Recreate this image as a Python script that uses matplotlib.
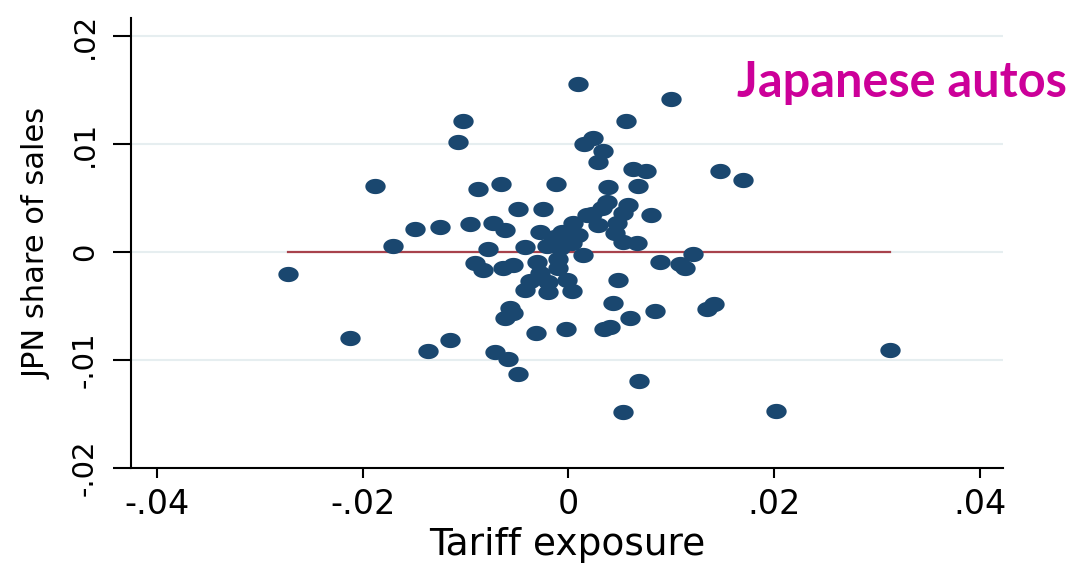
import matplotlib.pyplot as plt
import numpy as np

# tariff exposure (x) vs change in JPN share of sales (y), one point per market
tariff = [0.0009, 0.0100, -0.0103, 0.0056, 0.0024, -0.0107, 0.0015, 0.0034, 0.0029, 0.0063,
          0.0075, 0.0147, 0.0170, -0.0066, -0.0012, -0.0188, 0.0038, 0.0068, -0.0088, 0.0037,
          0.0058, -0.0049, -0.0025, 0.0080, 0.0023, 0.0053, 0.0004, 0.0018, 0.0047, 0.0033,
          -0.0125, -0.0149, -0.0096, -0.0073, -0.0062, 0.0045, -0.0028, -0.0013, 0.0053, 0.0067,
          -0.0171, -0.0078, -0.0042, -0.0021, -0.0008, 0.0003, 0.0121, 0.0014, -0.0010, -0.0031,
          0.0089, 0.0108, 0.0113, -0.0273, -0.0091, -0.0083, -0.0064, -0.0054, -0.0010, -0.0028,
          -0.0037, -0.0020, -0.0001, 0.0048, -0.0042, -0.0020, 0.0003, 0.0043, -0.0057, -0.0062,
          -0.0054, 0.0084, 0.0135, 0.0141, 0.0060, 0.0035, 0.0040, -0.0002, -0.0032, -0.0212,
          -0.0115, -0.0137, -0.0071, -0.0059, -0.0049, 0.0069, 0.0313, 0.0053, 0.0202, -0.0015,
          -0.0006, 0.0009, 0.0029]
jpn_share = [0.0156, 0.0142, 0.0121, 0.0121, 0.0106, 0.0102, 0.0100, 0.0094, 0.0083, 0.0077,
             0.0075, 0.0075, 0.0067, 0.0063, 0.0063, 0.0061, 0.0060, 0.0061, 0.0058, 0.0046,
             0.0044, 0.0040, 0.0040, 0.0034, 0.0035, 0.0036, 0.0027, 0.0034, 0.0027, 0.0041,
             0.0023, 0.0021, 0.0026, 0.0027, 0.0020, 0.0018, 0.0019, 0.0014, 0.0009, 0.0008,
             0.0006, 0.0003, 0.0005, 0.0006, 0.0004, 0.0008, -0.0002, -0.0003, -0.0006, -0.0009,
             -0.0009, -0.0011, -0.0015, -0.0020, -0.0010, -0.0017, -0.0015, -0.0012, -0.0015, -0.0019,
             -0.0027, -0.0028, -0.0026, -0.0026, -0.0035, -0.0037, -0.0036, -0.0047, -0.0052, -0.0061,
             -0.0056, -0.0055, -0.0053, -0.0048, -0.0061, -0.0071, -0.0069, -0.0071, -0.0075, -0.0080,
             -0.0081, -0.0092, -0.0093, -0.0099, -0.0113, -0.0119, -0.0091, -0.0148, -0.0147, 0.0010,
             0.0019, 0.0016, 0.0025]
fit_level = 0.0

x_ticks = [-0.04, -0.02, 0, 0.02, 0.04]
x_labels = ['-.04', '-.02', '0', '.02', '.04']
y_ticks = [-0.02, -0.01, 0, 0.01, 0.02]
y_labels = ['-.02', '-.01', '0', '.01', '.02']

navy = '#1a476f'

fig = plt.figure(figsize=(10.71, 5.63), dpi=100)
ax = fig.add_axes([0.1223, 0.1687, 0.8142, 0.7993])

# slightly squashed round marker
t = np.linspace(0, 2 * np.pi, 40)
blob = np.column_stack([np.cos(t), 0.75 * np.sin(t)])

ax.scatter(tariff, jpn_share, marker=blob, s=215, color=navy, linewidths=0, zorder=3)
ax.plot([min(tariff), max(tariff)], [fit_level, fit_level], color='#a8424c', lw=1.6, zorder=2)

ax.set_xlim(-0.04253, 0.04224)
ax.set_ylim(-0.02, 0.02167)
ax.set_xticks(x_ticks)
ax.set_xticklabels(x_labels, fontsize=24)
ax.set_yticks(y_ticks)
ax.set_yticklabels(y_labels, fontsize=21, rotation=90, va='center')

ax.tick_params(axis='x', direction='out', length=7.5, width=1.5, pad=7)
ax.tick_params(axis='y', direction='out', length=13, width=1.5, pad=10)
ax.grid(axis='y', color='#e6eef0', lw=1.5, zorder=0)
ax.set_axisbelow(True)

for side in ['top', 'right']:
    ax.spines[side].set_visible(False)
for side in ['left', 'bottom']:
    ax.spines[side].set_linewidth(1.5)

ax.set_xlabel('Tariff exposure', fontsize=27, labelpad=4)
ax.set_ylabel('JPN share of sales', fontsize=22, labelpad=14)

fig.text(0.688, 0.828, 'Japanese autos', color='#cc0099', fontsize=35,
         fontweight='bold', family='Lato')

fig.savefig('out.png', dpi=100)
